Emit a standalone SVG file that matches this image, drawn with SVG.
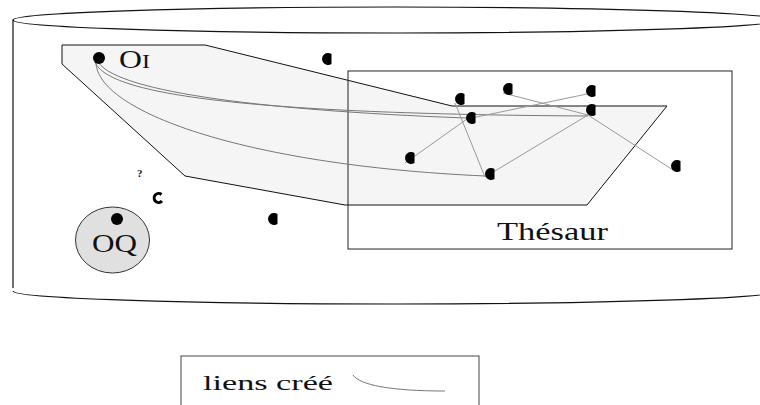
<svg xmlns="http://www.w3.org/2000/svg" xmlns:xlink="http://www.w3.org/1999/xlink" width="760" height="405" viewBox="0 0 760 405">
<style>
.cyl{fill:none;stroke:#111;stroke-width:1.2}
.txt{font-family:"Liberation Serif","Times New Roman",serif;fill:#111}
.lnk{fill:none;stroke:#999;stroke-width:1}
.crv{fill:none;stroke:#777;stroke-width:1}
.dot{fill:#000}
</style>
<defs>
<path id="d" d="M3.5,-4.9 A6,6 0 1,0 3.5,4.9 Z"/>
</defs>
<rect width="760" height="405" fill="#fff"/>
<g id="cylinder">
<ellipse class="cyl" cx="395" cy="20" rx="382" ry="13"/>
<path class="cyl" d="M13,20 V288 M13,291 A382,13 0 0,0 777,291"/>
</g>
<g id="oi-zone">
<polygon points="62,45 205,45 452,106 667,106 587,205 345,205 185,176 62,64" fill="#f5f5f5" stroke="#111" stroke-width="1"/>
</g>
<g id="thesaurus">
<rect x="348" y="71" width="384" height="178" fill="none" stroke="#222" stroke-width="1"/>
<text class="txt" x="497" y="240" font-size="25" textLength="111" lengthAdjust="spacingAndGlyphs">Thésaur</text>
</g>
<g id="connectors">
<path class="crv" d="M97,60 C110,90 250,110 466,118"/>
<path class="crv" d="M95,62 C108,95 250,114 588,116"/>
<path class="crv" d="M96,62 C96,110 240,165 485,176"/>
<path class="lnk" d="M455,103 L485,177"/>
<path class="lnk" d="M503,93 L588,115 L673,170"/>
<path class="lnk" d="M467,119 L587,94"/>
<path class="lnk" d="M405,163 L467,119"/>
<path class="lnk" d="M485,177 L588,115"/>
</g>
<g id="oi">
<circle class="dot" cx="99" cy="58" r="6"/>
<text class="txt" x="119" y="68" font-size="25" textLength="31" lengthAdjust="spacingAndGlyphs">O<tspan font-size="19">I</tspan></text>
</g>
<g id="terms">
<use class="dot" xlink:href="#d" x="328" y="59"/>
<use class="dot" xlink:href="#d" x="461" y="99"/>
<use class="dot" xlink:href="#d" x="509" y="89"/>
<use class="dot" xlink:href="#d" x="592" y="91"/>
<use class="dot" xlink:href="#d" x="592" y="110"/>
<use class="dot" xlink:href="#d" x="472" y="118"/>
<use class="dot" xlink:href="#d" x="411" y="158"/>
<use class="dot" xlink:href="#d" x="491" y="174"/>
<use class="dot" xlink:href="#d" x="677" y="166"/>
<use class="dot" xlink:href="#d" x="274" y="219"/>
</g>
<g id="misc">
<text class="txt" x="137" y="177" font-size="11" font-weight="bold">?</text>
<path d="M161.5,194.5 A4.5,4.5 0 1,0 162,201" fill="none" stroke="#000" stroke-width="3"/>
</g>
<g id="oq">
<ellipse cx="112.5" cy="240" rx="37" ry="33" fill="#e0e0e0" stroke="#333" stroke-width="1"/>
<circle class="dot" cx="117" cy="219" r="6"/>
<text class="txt" x="92" y="252" font-size="25" textLength="45" lengthAdjust="spacingAndGlyphs">OQ</text>
</g>
<g id="legend">
<rect x="181" y="356" width="298" height="70" fill="none" stroke="#444" stroke-width="1"/>
<text class="txt" x="203" y="390" font-size="22" textLength="130" lengthAdjust="spacingAndGlyphs">liens créé</text>
<path class="crv" d="M353,375 C360,385 390,391 445,391"/>
</g>
</svg>
